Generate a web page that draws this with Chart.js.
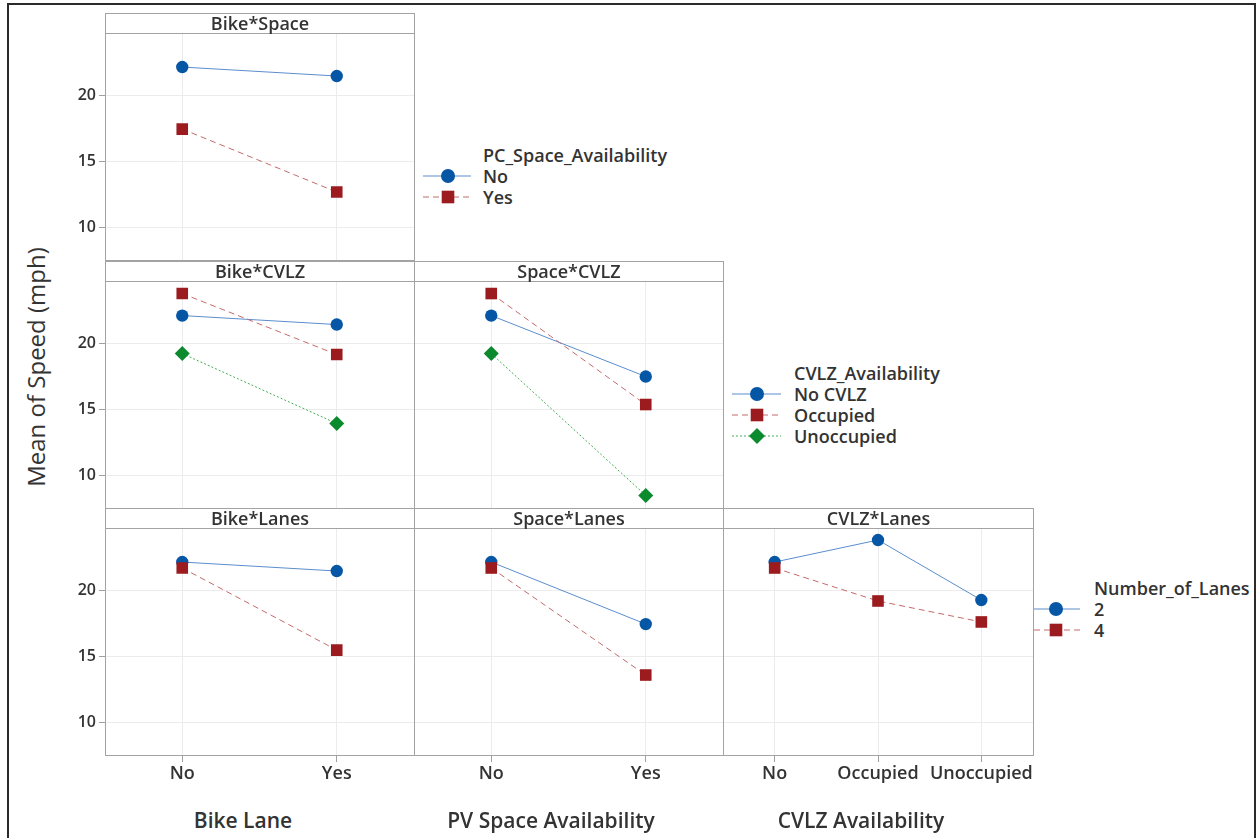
<!DOCTYPE html>
<html>
<head>
<meta charset="utf-8">
<script src="https://cdn.jsdelivr.net/npm/chart.js@4.4.1/dist/chart.umd.min.js"></script>
<style>
body { margin: 0; background: #fff; }
#wrap { position: relative; width: 1257px; height: 838px; overflow: hidden; background: #fff;
        font-family: "Open Sans", "Noto Sans", sans-serif; font-weight: 600; color: #333; }
#frame { position: absolute; left: 7px; top: 3px; width: 1249px; height: 860px; border: 2px solid #2a2a2a; box-sizing: border-box; }
#wrap canvas, .box, .head, .txt, .sym { position: absolute; }
.box { border: 1px solid #a3a3a3; box-sizing: border-box; pointer-events: none; }
.head { border: 1px solid #a3a3a3; box-sizing: border-box; text-align: center; font-size: 18px; line-height: 18px; background: #fff; }
.txt { white-space: nowrap; font-size: 18px; line-height: 20px; }
.axt { font-size: 21px; line-height: 24px; }
#ytitle { position: absolute; left: 36px; top: 367px; font-size: 24px; line-height: 28px; font-weight: 500; white-space: nowrap;
          transform: translate(-50%, -50%) rotate(-90deg); }
</style>
</head>
<body>
<div id="wrap">
  <div id="frame"></div>
  <div id="ytitle">Mean of Speed (mph)</div>
</div>
<script>
// factor levels
const bikeLevels = ['No', 'Yes'];
const spaceLevels = ['No', 'Yes'];
const cvlzLevels = ['No', 'Occupied', 'Unoccupied'];
const yTicks = [10, 15, 20];

// Bike*Space (PC_Space_Availability)
const bikeSpaceNo = [22.12, 21.44];
const bikeSpaceYes = [17.42, 12.65];
// Bike*CVLZ (CVLZ_Availability)
const bikeCvlzNone = [22.08, 21.40];
const bikeCvlzOcc = [23.75, 19.13];
const bikeCvlzUnocc = [19.20, 13.90];
// Space*CVLZ
const spaceCvlzNone = [22.08, 17.46];
const spaceCvlzOcc = [23.75, 15.34];
const spaceCvlzUnocc = [19.20, 8.45];
// *Lanes (Number_of_Lanes)
const bikeLanes2 = [22.12, 21.44];
const bikeLanes4 = [21.67, 15.45];
const spaceLanes2 = [22.12, 17.42];
const spaceLanes4 = [21.67, 13.56];
const cvlzLanes2 = [22.12, 23.79, 19.24];
const cvlzLanes4 = [21.67, 19.17, 17.58];

const styles = {
    blue:  { line: '#5b8dcc', dash: [], mark: '#0656a6', shape: 'circle', r: 6.2 },
    red:   { line: '#c46a6a', dash: [6, 4], mark: '#9b1b1e', shape: 'rect', r: 8.2 },
    green: { line: '#47ad58', dash: [2, 2], mark: '#0b8a2e', shape: 'rectRot', r: 7.5 }
};

const colX = [105, 414, 723, 1033];
const rowY = [33, 281, 528];
const plotH = 227;
const headH = 21;
const wrap = document.getElementById('wrap');

const panels = [
    { row: 0, col: 0, title: 'Bike*Space', labels: bikeLevels, series: [[bikeSpaceNo, 'blue'], [bikeSpaceYes, 'red']] },
    { row: 1, col: 0, title: 'Bike*CVLZ', labels: bikeLevels, series: [[bikeCvlzNone, 'blue'], [bikeCvlzOcc, 'red'], [bikeCvlzUnocc, 'green']] },
    { row: 1, col: 1, title: 'Space*CVLZ', labels: spaceLevels, series: [[spaceCvlzNone, 'blue'], [spaceCvlzOcc, 'red'], [spaceCvlzUnocc, 'green']] },
    { row: 2, col: 0, title: 'Bike*Lanes', labels: bikeLevels, series: [[bikeLanes2, 'blue'], [bikeLanes4, 'red']] },
    { row: 2, col: 1, title: 'Space*Lanes', labels: spaceLevels, series: [[spaceLanes2, 'blue'], [spaceLanes4, 'red']] },
    { row: 2, col: 2, title: 'CVLZ*Lanes', labels: cvlzLevels, series: [[cvlzLanes2, 'blue'], [cvlzLanes4, 'red']] }
];

function el(cls, css, text) {
    const d = document.createElement('div');
    d.className = cls;
    Object.assign(d.style, css);
    if (text) d.textContent = text;
    wrap.appendChild(d);
    return d;
}

// keep the plot area fixed: no automatic label padding
function noPad(s) {
    s.paddingTop = 0; s.paddingBottom = 0; s.paddingLeft = 0; s.paddingRight = 0;
}

function makePanel(p) {
    const padL = p.col === 0 ? 105 : 0;
    const padB = p.row === 2 ? 40 : 0;
    const pw = colX[p.col + 1] - colX[p.col];
    const w = pw + padL, h = plotH + padB;
    const c = document.createElement('canvas');
    c.width = w; c.height = h;
    Object.assign(c.style, { left: (colX[p.col] - padL) + 'px', top: rowY[p.row] + 'px', width: w + 'px', height: h + 'px' });
    wrap.appendChild(c);

    new Chart(c, {
        type: 'line',
        data: {
            labels: p.labels,
            datasets: p.series.map(([vals, k], i) => {
                const s = styles[k];
                return {
                    data: vals, order: p.series.length - i,
                    borderColor: s.line, borderWidth: 1, borderDash: s.dash, fill: false, tension: 0,
                    pointStyle: s.shape, pointRadius: s.r, pointHoverRadius: s.r,
                    pointBackgroundColor: s.mark, pointBorderWidth: 0
                };
            })
        },
        options: {
            responsive: false, maintainAspectRatio: false, animation: false, events: [],
            layout: { padding: 0, autoPadding: false },
            plugins: { legend: { display: false }, tooltip: { enabled: false } },
            scales: {
                x: {
                    type: 'category', offset: true,
                    grid: { color: '#ececec', drawTicks: padB > 0, tickLength: 7, tickColor: '#a0a0a0' },
                    border: { display: false },
                    ticks: { display: padB > 0, color: '#333', padding: 1, maxRotation: 0, autoSkip: false,
                             font: { family: '"Open Sans"', size: 18, weight: '600' } },
                    afterFit: s => { s.height = padB; noPad(s); }
                },
                y: {
                    min: 7.5, max: 24.7,
                    grid: { color: '#ececec', drawTicks: padL > 0, tickLength: 6, tickColor: '#a0a0a0' },
                    border: { display: false },
                    afterBuildTicks: s => { s.ticks = yTicks.map(v => ({ value: v })); },
                    ticks: { display: padL > 0, color: '#333', padding: 3,
                             font: { family: '"Open Sans"', size: 16, weight: '600' } },
                    afterFit: s => { s.width = padL; noPad(s); }
                }
            }
        }
    });

    el('box', { left: colX[p.col] + 'px', top: rowY[p.row] + 'px', width: (pw + 1) + 'px', height: (plotH + 1) + 'px' });
    el('head', { left: colX[p.col] + 'px', top: (rowY[p.row] - headH + 1) + 'px', width: (pw + 1) + 'px', height: headH + 'px' }, p.title);
}

panels.forEach(makePanel);

// legends
function symbol(x0, x1, xm, y, k) {
    const s = styles[k];
    const ns = 'http://www.w3.org/2000/svg';
    const svg = document.createElementNS(ns, 'svg');
    svg.setAttribute('class', 'sym');
    svg.setAttribute('width', x1 - x0);
    svg.setAttribute('height', 20);
    Object.assign(svg.style, { position: 'absolute', left: x0 + 'px', top: (y - 10) + 'px' });
    const ln = document.createElementNS(ns, 'line');
    ln.setAttribute('x1', 0); ln.setAttribute('x2', x1 - x0); ln.setAttribute('y1', 10); ln.setAttribute('y2', 10);
    ln.setAttribute('stroke', s.line); ln.setAttribute('stroke-width', 1);
    if (s.dash.length) ln.setAttribute('stroke-dasharray', s.dash.join(' '));
    svg.appendChild(ln);
    const cx = xm - x0;
    let m;
    if (s.shape === 'circle') {
        m = document.createElementNS(ns, 'circle');
        m.setAttribute('cx', cx); m.setAttribute('cy', 10); m.setAttribute('r', 7);
    } else if (s.shape === 'rect') {
        m = document.createElementNS(ns, 'rect');
        m.setAttribute('x', cx - 6.3); m.setAttribute('y', 3.7); m.setAttribute('width', 12.6); m.setAttribute('height', 12.6);
    } else {
        m = document.createElementNS(ns, 'polygon');
        m.setAttribute('points', `${cx - 8},10 ${cx},2 ${cx + 8},10 ${cx},18`);
    }
    m.setAttribute('fill', s.mark);
    svg.appendChild(m);
    wrap.appendChild(svg);
}

function legend(x0, x1, xm, tx, ty, title, items, step) {
    el('txt', { left: tx + 'px', top: (ty - 10) + 'px' }, title);
    items.forEach(([label, k], i) => {
        const y = ty + step * (i + 1);
        symbol(x0, x1, xm, y, k);
        el('txt', { left: tx + 'px', top: (y - 10) + 'px' }, label);
    });
}

legend(423, 471, 448, 483, 155, 'PC_Space_Availability', [['No', 'blue'], ['Yes', 'red']], 21);
legend(732, 781, 757, 794, 373, 'CVLZ_Availability', [['No CVLZ', 'blue'], ['Occupied', 'red'], ['Unoccupied', 'green']], 21);
legend(1034, 1080, 1056, 1094, 588, 'Number_of_Lanes', [['2', 'blue'], ['4', 'red']], 21);

// factor axis titles
[['Bike Lane', 243], ['PV Space Availability', 551], ['CVLZ Availability', 861]].forEach(([t, cx]) => {
    el('txt axt', { left: cx + 'px', top: '808px', transform: 'translateX(-50%)' }, t);
});
</script>
</body>
</html>
